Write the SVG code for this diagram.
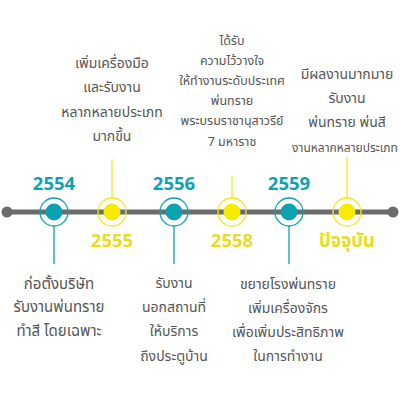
<svg xmlns="http://www.w3.org/2000/svg" width="400" height="400" viewBox="0 0 400 400">
<style>
.t{font-family:"Noto Sans Thai","Noto Sans","Liberation Sans",sans-serif;fill:#555;text-anchor:middle;font-size:14px}
.s{font-size:12.5px}
.xs{font-size:12px}
.yr{font-family:"Noto Sans Thai","Noto Sans","Liberation Sans",sans-serif;font-weight:bold;font-size:18.5px;text-anchor:middle}
.teal{fill:#0ba3b1}
.yel{fill:#e9dc1e}
.ringT{fill:none;stroke:#0ba3b1;stroke-width:1.3}
.ringY{fill:none;stroke:#f3e81a;stroke-width:1.3}
.lT{stroke:#0ba3b1;stroke-width:1.3}
.lY{stroke:#f3e81a;stroke-width:1.3}
</style>
<rect width="400" height="400" fill="#fff"/>
<g id="connectors">
<line x1="7" y1="212" x2="393" y2="212" stroke="#6b6b6b" stroke-width="5"/>
<circle cx="7" cy="212" r="5.5" fill="#6b6b6b"/>
<circle cx="393" cy="212" r="5.5" fill="#6b6b6b"/>
<line class="lT" x1="54" y1="226" x2="54" y2="264"/>
<line class="lY" x1="112" y1="159" x2="112" y2="198"/>
<line class="lT" x1="174" y1="226" x2="174" y2="264"/>
<line class="lY" x1="232" y1="176" x2="232" y2="198"/>
<line class="lT" x1="289" y1="226" x2="289" y2="264"/>
<line class="lY" x1="347" y1="157" x2="347" y2="198"/>
</g>
<g id="n2554">
<circle class="ringT" cx="54" cy="212" r="14"/>
<circle class="teal" cx="54" cy="212" r="8.5"/>
<text class="yr teal" x="54" y="190">2554</text>
<text class="t" x="59" y="289" style="font-size:15px">ก่อตั้งบริษัท</text>
<text class="t" x="59" y="312" style="font-size:15px">รับงานพ่นทราย</text>
<text class="t" x="59" y="336" style="font-size:15px">ทำสี โดยเฉพาะ</text>
</g>
<g id="n2555">
<circle class="ringY" cx="112" cy="212" r="14"/>
<circle cx="112" cy="212" r="8.5" fill="#f7ec00"/>
<text class="yr yel" x="112" y="247">2555</text>
<text class="t" x="112" y="68">เพิ่มเครื่องมือ</text>
<text class="t" x="112" y="92">และรับงาน</text>
<text class="t" x="112" y="117">หลากหลายประเภท</text>
<text class="t" x="112" y="141">มากขึ้น</text>
</g>
<g id="n2556">
<circle class="ringT" cx="174" cy="212" r="14"/>
<circle class="teal" cx="174" cy="212" r="8.5"/>
<text class="yr teal" x="174" y="190">2556</text>
<text class="t" x="174" y="288">รับงาน</text>
<text class="t" x="174" y="312">นอกสถานที่</text>
<text class="t" x="174" y="336">ให้บริการ</text>
<text class="t" x="174" y="361">ถึงประตูบ้าน</text>
</g>
<g id="n2558">
<circle class="ringY" cx="232" cy="212" r="14"/>
<circle cx="232" cy="212" r="8.5" fill="#f7ec00"/>
<text class="yr yel" x="232" y="247">2558</text>
<text class="t s" x="232" y="45">ได้รับ</text>
<text class="t s" x="232" y="65">ความไว้วางใจ</text>
<text class="t s" x="232" y="85">ให้ทำงานระดับประเทศ</text>
<text class="t s" x="232" y="105">พ่นทราย</text>
<text class="t s" x="232" y="125">พระบรมราชานุสาวรีย์</text>
<text class="t s" x="232" y="146">7 มหาราช</text>
</g>
<g id="n2559">
<circle class="ringT" cx="289" cy="212" r="14"/>
<circle class="teal" cx="289" cy="212" r="8.5"/>
<text class="yr teal" x="289" y="190">2559</text>
<text class="t" x="288" y="289">ขยายโรงพ่นทราย</text>
<text class="t" x="288" y="313">เพิ่มเครื่องจักร</text>
<text class="t" x="288" y="337">เพื่อเพิ่มประสิทธิภาพ</text>
<text class="t" x="288" y="361">ในการทำงาน</text>
</g>
<g id="nNow">
<circle class="ringY" cx="347" cy="212" r="14"/>
<circle cx="347" cy="212" r="8.5" fill="#f7ec00"/>
<text class="yr yel" x="347" y="247">ปัจจุบัน</text>
<text class="t" x="347" y="79">มีผลงานมากมาย</text>
<text class="t" x="347" y="103">รับงาน</text>
<text class="t" x="347" y="127">พ่นทราย พ่นสี</text>
<text class="t xs" x="345" y="152">งานหลากหลายประเภท</text>
</g>
</svg>
